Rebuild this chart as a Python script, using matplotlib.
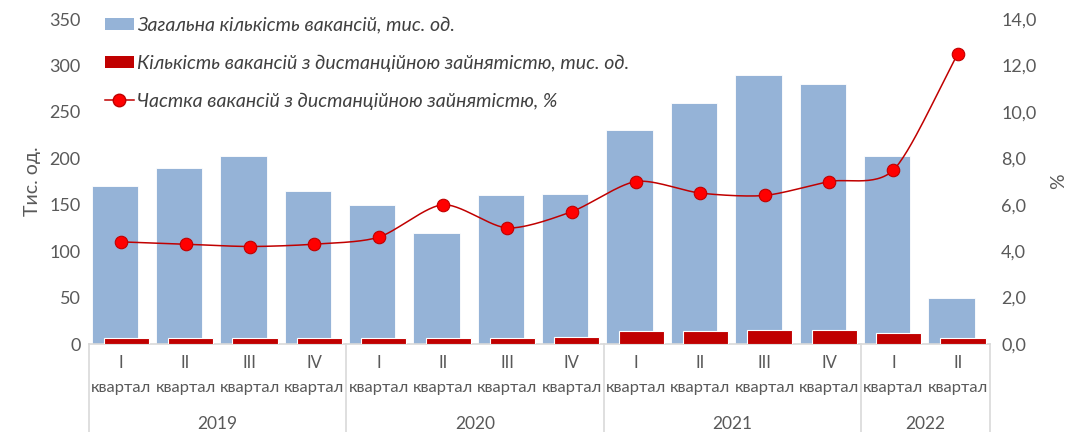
import matplotlib
matplotlib.use("Agg")

import numpy as np
import matplotlib.pyplot as plt
from matplotlib.lines import Line2D
from matplotlib.patches import Patch
from matplotlib.transforms import blended_transform_factory

plt.rcParams['font.family'] = ['Lato', 'DejaVu Sans']

# ==============================
# DATA
# ==============================
quarters = ["I", "II", "III", "IV", "I", "II", "III", "IV",
            "I", "II", "III", "IV", "I", "II"]
years = ["2019", "2020", "2021", "2022"]
year_sizes = [4, 4, 4, 2]

total_vac = [170, 190, 202, 165, 150, 120, 160, 162, 230, 260, 290, 280, 202, 50]
remote_vac = [6, 7, 7, 6, 6, 7, 7, 8, 14, 14, 15, 15, 12, 6]
remote_share = [4.4, 4.3, 4.2, 4.3, 4.6, 6.0, 5.0, 5.7, 7.0, 6.5, 6.4, 7.0, 7.5, 12.5]

lbl_total = "Загальна кількість вакансій, тис. од."
lbl_remote = "Кількість вакансій з дистанційною зайнятістю, тис. од."
lbl_share = "Частка вакансій з дистанційною зайнятістю, %"

BLUE = "#95B3D7"
DARK_RED = "#C00000"
RED = "#FF0000"
GREY_TXT = "#595959"
GRID = "#D9D9D9"


def smooth(xs, ys, steps=30):
    # catmull-rom para la linea suavizada (tipo Excel)
    xs = np.asarray(xs, float)
    ys = np.asarray(ys, float)
    px = np.concatenate([[2 * xs[0] - xs[1]], xs, [2 * xs[-1] - xs[-2]]])
    py = np.concatenate([[2 * ys[0] - ys[1]], ys, [2 * ys[-1] - ys[-2]]])
    ox, oy = [], []
    for i in range(1, len(px) - 2):
        t = np.linspace(0, 1, steps, endpoint=False)
        for p, out in ((px, ox), (py, oy)):
            p0, p1, p2, p3 = p[i - 1], p[i], p[i + 1], p[i + 2]
            m1 = (p2 - p0) / 2 * 0.8
            m2 = (p3 - p1) / 2 * 0.8
            h00 = 2 * t**3 - 3 * t**2 + 1
            h10 = t**3 - 2 * t**2 + t
            h01 = -2 * t**3 + 3 * t**2
            h11 = t**3 - t**2
            out.extend(h00 * p1 + h10 * m1 + h01 * p2 + h11 * m2)
    ox.append(xs[-1])
    oy.append(ys[-1])
    return np.array(ox), np.array(oy)


fig, ax = plt.subplots(figsize=(10.68, 4.32), dpi=100)
fig.subplots_adjust(left=0.0833, right=0.927, bottom=0.2037, top=0.956)

x = np.arange(len(quarters))

ax.bar(x - 0.1, total_vac, width=0.72, color=BLUE, edgecolor="white", linewidth=0.6, zorder=2)
ax.bar(x + 0.08, remote_vac, width=0.70, color=DARK_RED, edgecolor="white", linewidth=0.8, zorder=3)

ax.set_xlim(-0.5, len(quarters) - 0.5)
ax.set_ylim(0, 350)
ax.set_yticks(np.arange(0, 351, 50))
ax.set_xticks([])
ax.set_ylabel("Тис. од.", fontsize=14, color=GREY_TXT, labelpad=6)
ax.tick_params(axis="y", length=0, labelsize=13, labelcolor=GREY_TXT, pad=6)
for s in ["top", "right", "left"]:
    ax.spines[s].set_visible(False)
ax.spines["bottom"].set_color(GRID)
ax.spines["bottom"].set_linewidth(1.2)

ax2 = ax.twinx()
sx, sy = smooth(x, remote_share)
ax2.plot(sx, sy, color=DARK_RED, lw=1.1, zorder=4)
ax2.plot(x, remote_share, "o", ms=9, color=RED, mec=DARK_RED, mew=0.8, zorder=5)
ax2.set_ylim(0, 14)
ax2.set_yticks(np.arange(0, 14.1, 2))
ax2.set_yticklabels([f"{v:.1f}".replace(".", ",") for v in np.arange(0, 14.1, 2)])
ax2.tick_params(axis="y", length=0, labelsize=13, labelcolor=GREY_TXT, pad=8)
ax2.set_ylabel("%", fontsize=14, color=GREY_TXT, rotation=90, labelpad=10)
for s in ["top", "right", "left", "bottom"]:
    ax2.spines[s].set_visible(False)

# ==============================
# EJE X MULTINIVEL
# ==============================
tr = blended_transform_factory(ax.transData, ax.transAxes)
for i, q in enumerate(quarters):
    ax.text(i, -0.034, q, transform=tr, ha="center", va="top", fontsize=12, color=GREY_TXT)
    ax.text(i, -0.115, "квартал", transform=tr, ha="center", va="top", fontsize=11.8, color=GREY_TXT)

start = 0
bounds = [-0.5]
for yr, n in zip(years, year_sizes):
    ax.text(start + (n - 1) / 2, -0.222, yr, transform=tr, ha="center", va="top",
            fontsize=12.5, color=GREY_TXT)
    start += n
    bounds.append(start - 0.5)
for b in bounds:
    ax.plot([b, b], [0, -0.3], transform=tr, color=GRID, lw=1.2, clip_on=False)

# ==============================
# LEYENDA
# ==============================
handles = [
    Patch(facecolor=BLUE, edgecolor="none"),
    Patch(facecolor=DARK_RED, edgecolor="none"),
    Line2D([0], [0], color=DARK_RED, lw=1.1, marker="o", ms=9, mfc=RED, mec=DARK_RED),
]
leg = ax.legend(handles, [lbl_total, lbl_remote, lbl_share], loc="upper left",
                bbox_to_anchor=(-0.002, 1.06), frameon=False, labelspacing=1.05,
                handlelength=1.5, handleheight=0.55, handletextpad=0.15,
                prop={"style": "italic", "size": 14})
for t in leg.get_texts():
    t.set_color("#404040")
leg.set_zorder(10)

plt.savefig("out.png", dpi=100)
plt.close()
